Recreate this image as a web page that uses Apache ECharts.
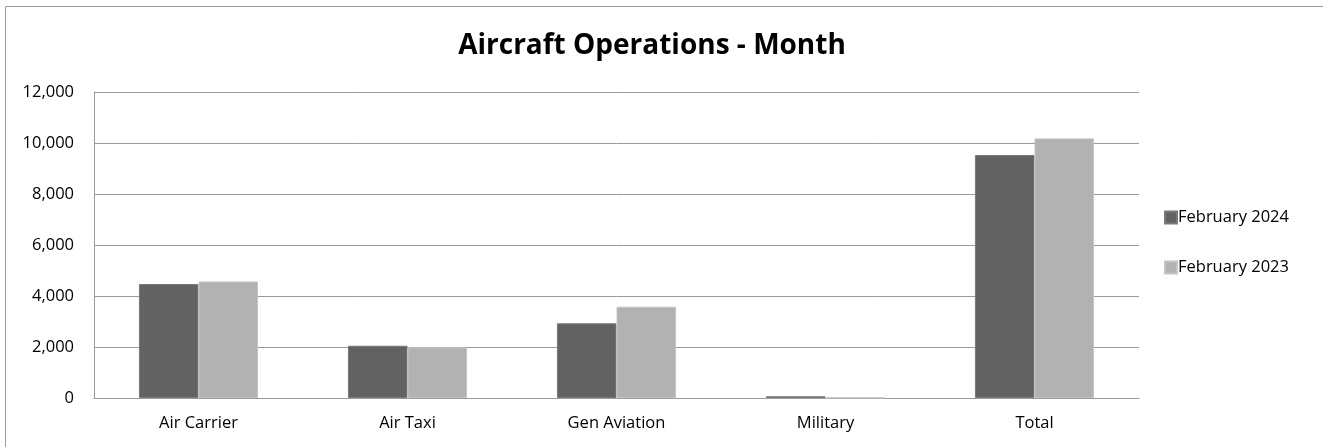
<!DOCTYPE html>
<html>
<head>
<meta charset="utf-8">
<script src="https://cdn.jsdelivr.net/npm/echarts@6/dist/echarts.min.js"></script>
<style>
  html, body { margin: 0; padding: 0; background: #fff; }
  #chart { width: 1323px; height: 447px; }
</style>
</head>
<body>
<div id="chart"></div>
<script>
// chart data
const categories = ["Air Carrier", "Air Taxi", "Gen Aviation", "Military", "Total"];
const feb2024 = [4470, 2050, 2930, 70, 9530];
const feb2023 = [4570, 1990, 3580, 10, 10180];
const seriesNames = ["February 2024", "February 2023"];

/* =========================================
   CHART INITIALIZATION
   ========================================= */
function initChart() {
  const dom = document.getElementById("chart");
  const chart = echarts.init(dom, null, { renderer: "canvas" });

  const font = "'Open Sans', Lato, sans-serif";

  const option = {
    backgroundColor: "#fff",
    animation: false,
    textStyle: { fontFamily: font },
    title: {
      text: "Aircraft Operations - Month",
      left: 647,
      textAlign: "center",
      top: 27,
      textStyle: { fontFamily: font, fontSize: 28, fontWeight: "bold", color: "#000" },
    },
    graphic: [
      {
        // outer chart frame (open on the right and bottom, as cropped)
        type: "rect",
        shape: { x: 5.5, y: 6.5, width: 1330, height: 460 },
        style: { fill: null, stroke: "#9a9a9a", lineWidth: 1 },
        silent: true,
        z: -1,
      },
    ],
    legend: {
      orient: "vertical",
      left: 1159,
      top: 204,
      itemWidth: 12,
      itemHeight: 12,
      itemGap: 33,
      icon: "rect",
      textStyle: { fontFamily: font, fontSize: 16.5, color: "#000", padding: [0, 0, 0, -4] },
      data: seriesNames,
    },
    grid: { left: 94, right: 184, top: 92, bottom: 49, containLabel: false },
    xAxis: {
      type: "category",
      data: categories,
      axisLine: { show: true, lineStyle: { color: "#9a9a9a", width: 1 } },
      axisTick: { show: false },
      axisLabel: { color: "#000", fontSize: 16.5, fontFamily: font, margin: 17 },
    },
    yAxis: {
      type: "value",
      min: 0,
      max: 12000,
      interval: 2000,
      axisLine: { show: true, lineStyle: { color: "#9a9a9a", width: 1 } },
      axisTick: { show: false },
      splitLine: { lineStyle: { color: "#9a9a9a", width: 1 } },
      axisLabel: {
        color: "#000",
        fontSize: 16.5,
        fontFamily: font,
        margin: 20,
        formatter: (v) => v.toLocaleString("en-US"),
      },
    },
    series: [
      {
        name: seriesNames[0],
        type: "bar",
        data: feb2024,
        barGap: "0%",
        barCategoryGap: "43%",
        itemStyle: { color: "#626262", borderColor: "#7a7a7a", borderWidth: 1 },
      },
      {
        name: seriesNames[1],
        type: "bar",
        data: feb2023,
        itemStyle: { color: "#b2b2b2", borderColor: "#c4c4c4", borderWidth: 1 },
      },
    ],
  };

  chart.setOption(option);
  window.addEventListener("resize", () => chart.resize());
}

document.addEventListener("DOMContentLoaded", initChart);
</script>
</body>
</html>
